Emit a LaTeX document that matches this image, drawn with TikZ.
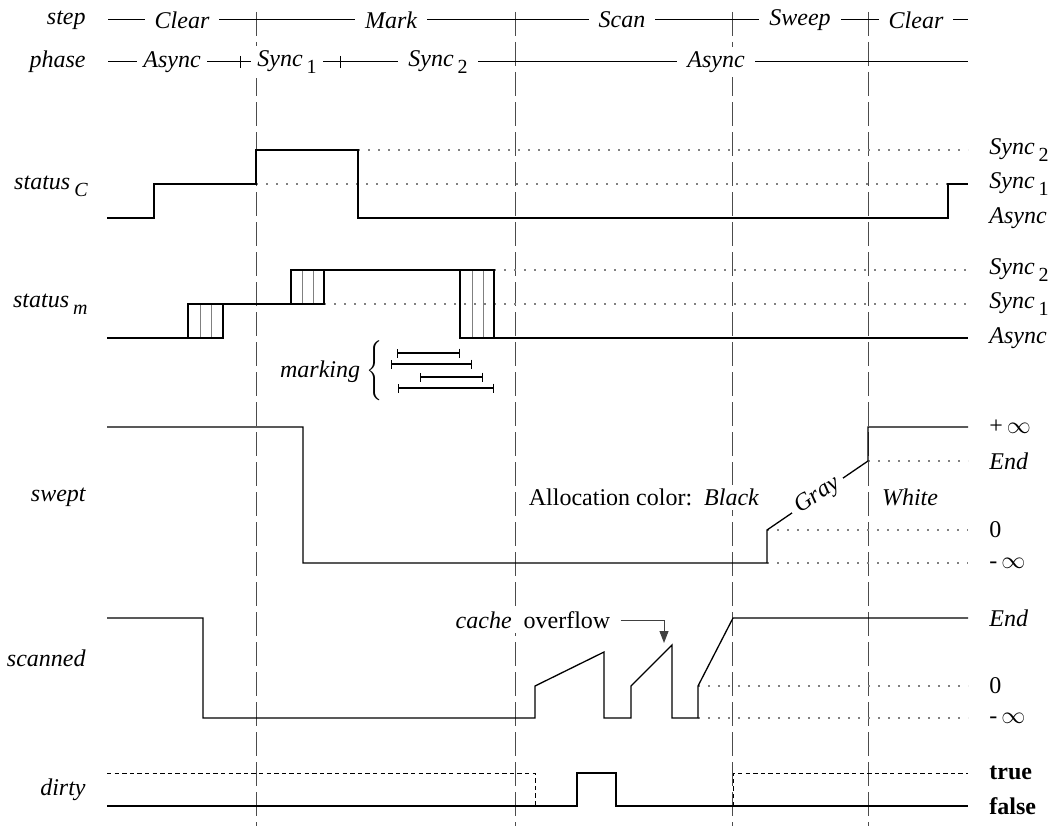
\documentclass[tikz,border=0pt,12pt]{standalone}
\usepackage{fontspec}
\setmainfont{Liberation Serif}
\usetikzlibrary{arrows.meta}
\newcommand{\idx}[1]{\,\raisebox{-.65ex}{\footnotesize\upshape #1}}
\tikzset{
  wave/.style={line width=0.65pt},
  row/.style={line width=0.5pt},
  lvl/.style={gray,line width=0.55pt,dash pattern=on 0.8pt off 4.2pt},
  bound/.style={black!70,line width=0.5pt,dash pattern=on 12pt off 3pt},
  hatch/.style={gray,line width=0.45pt},
  lab/.style={anchor=east,font=\itshape,inner sep=1pt},
  rlab/.style={anchor=west,inner sep=1pt},
  tag/.style={fill=white,inner xsep=5pt,inner ysep=2pt,font=\itshape},
  ivl/.style={{Bar[width=4.5pt]}-{Bar[width=4.5pt]},line width=0.55pt},
}

\begin{document}
\begin{tikzpicture}[x=0.5pt,y=-0.5pt]
  \useasboundingbox (0,0) rectangle (1052,829);
  % phase boundaries
  \foreach \x in {256,515,732,868} \draw[bound] (\x,12) -- (\x,826);

  % step / phase rows
  \draw[row] (108,20) -- (968,20);
  \draw[row] (108,62) -- (968,62);
  \draw[row] (240,56) -- (240,68) (340,56) -- (340,68);
  \node[tag] (sclr) at (182,20) {Clear};
  \node[tag] (smrk) at (391,20) {Mark};
  \node[tag] (sscn) at (622,20) {Scan};
  \node[tag] (sswp) at (800,20) {Sweep};
  \node[tag] (sclr2) at (916,20) {Clear};
  \node[tag,inner xsep=3pt] (pas) at (172,62) {Async};
  \node[tag,inner xsep=3pt] (ps1) at (287,62) {Sync\idx{1}};
  \node[tag] (ps2) at (438,62) {Sync\idx{2}};
  \node[tag] (pas2) at (716,62) {Async};

  % status_C
  \draw[lvl] (358,150) -- (968,150) (256,184) -- (948,184);
  \draw[wave] (107,218) -- (154,218) -- (154,184) -- (256,184) -- (256,150) -- (358,150)
    -- (358,218) -- (948,218) -- (948,184) -- (968,184);

  % status_m
  \draw[lvl] (494,270) -- (968,270) (324,304) -- (968,304);
  \foreach \x in {200,211} \draw[hatch] (\x,338) -- (\x,304);
  \foreach \x in {302,313} \draw[hatch] (\x,304) -- (\x,270);
  \foreach \x in {472,483} \draw[hatch] (\x,338) -- (\x,270);
  \draw[wave] (107,338) -- (188,338) -- (188,304) -- (291,304) -- (291,270) -- (460,270)
    -- (460,338) -- (968,338);
  \draw[wave] (188,338) rectangle (223,304) (291,304) rectangle (324,270) (460,270) rectangle (494,338);

  % marking
  \node[anchor=east,inner sep=0pt] (mk) at (385,371) {\textit{marking}~$\left\{\rule[-12pt]{0pt}{24pt}\right.$};
  \draw[ivl] (397,353) -- (460,353);
  \draw[ivl] (391,364) -- (472,364);
  \draw[ivl] (420,377) -- (483,377);
  \draw[ivl] (398,388) -- (494,388);

  % swept
  \draw[lvl] (868,461) -- (968,461) (767,530) -- (968,530) (767,563) -- (968,563);
  \draw[wave] (107,427) -- (303,427) -- (303,563) -- (767,563) -- (767,530)
    -- node[sloped,fill=white,inner xsep=3pt,inner ysep=0.5pt,font=\itshape] (gry) {Gray} (868,461)
    -- (868,427) -- (968,427);
  \node[fill=white,inner xsep=3pt,inner ysep=2pt] (alc) at (644,497) {Allocation color:\ \ \textit{Black}};
  \node[fill=white,inner sep=2pt,font=\itshape] (wht) at (910,497) {White};

  % scanned
  \draw[lvl] (698,686) -- (968,686) (698,718) -- (968,718);
  \draw[wave] (107,618) -- (203,618) -- (203,718) -- (535,718) -- (535,686) -- (604,652)
    -- (604,718) -- (631,718) -- (631,686) -- (672,645) -- (672,718) -- (698,718)
    -- (698,686) -- (733,618) -- (968,618);
  \node[fill=white,inner xsep=3pt,inner ysep=2pt] (ovf) at (533,620) {\textit{cache}\ \ overflow};
  \coordinate (pk) at (664,643);
  \draw[black!75,line width=0.5pt,-{Triangle[length=6pt,width=4.5pt]}] (ovf.east) ++(4,0) -| (pk);

  % dirty
  \draw[row,dash pattern=on 2.2pt off 1.6pt] (107,773) -- (535,773) -- (535,806)
    (733,806) -- (733,773) -- (968,773);
  \draw[wave] (107,806) -- (577,806) -- (577,773) -- (616,773) -- (616,806) -- (968,806);

  % row labels
  \node[lab] (lstep) at (88,20) {step};
  \node[lab] (lphs) at (88,62) {phase};
  \node[lab] (lstc) at (90,186) {status\idx{\itshape C}};
  \node[lab] (lstm) at (90,304) {status\idx{\itshape m}};
  \node[lab] (lswp) at (88,497) {swept};
  \node[lab] (lscn) at (88,658) {scanned};
  \node[lab] (ldrt) at (88,790) {dirty};

  % level labels
  \node[rlab,font=\itshape] (c2) at (987,150) {Sync\idx{2}};
  \node[rlab,font=\itshape] (c1) at (987,184) {Sync\idx{1}};
  \node[rlab,font=\itshape] (c0) at (987,218) {Async};
  \node[rlab,font=\itshape] (m2) at (987,270) {Sync\idx{2}};
  \node[rlab,font=\itshape] (m1) at (987,304) {Sync\idx{1}};
  \node[rlab,font=\itshape] (m0) at (987,338) {Async};
  \node[rlab] (wpi) at (987,427) {+\,$\infty$};
  \node[rlab,font=\itshape] (wend) at (987,461) {End};
  \node[rlab] (wz) at (987,530) {0};
  \node[rlab] (wmi) at (987,563) {-\,$\infty$};
  \node[rlab,font=\itshape] (nend) at (987,618) {End};
  \node[rlab] (nz) at (987,686) {0};
  \node[rlab] (nmi) at (987,718) {-\,$\infty$};
  \node[rlab,font=\bfseries] (dt) at (987,773) {true};
  \node[rlab,font=\bfseries] (df) at (987,806) {false};
\end{tikzpicture}
\end{document}
